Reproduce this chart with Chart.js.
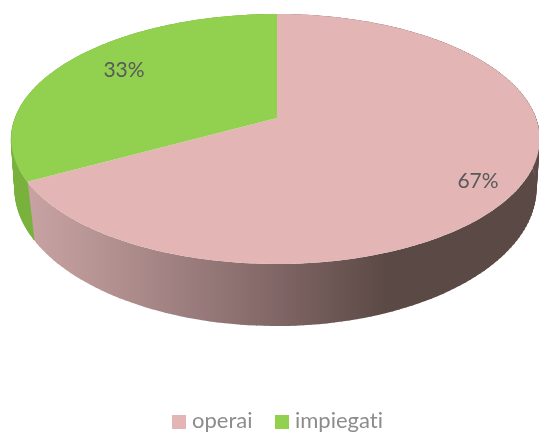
<!DOCTYPE html>
<html>
<head>
    <title>Operai e impiegati</title>
    <script src="https://cdn.jsdelivr.net/npm/chart.js"></script>
    <style>
        html, body { margin: 0; padding: 0; background: #fff; overflow: hidden; }
    </style>
</head>
<body>
    <canvas id="pieChart" width="539" height="432"></canvas>

    <script>
        const categories = ['operai', 'impiegati'];
        const values = [67, 33];
        const sliceColors = ['#e3b5b5', '#92d050'];
        const textFont = 'Lato, sans-serif';

        // Perspective of the disc: maps the unit circle to the tilted pie top
        const view = { cx: 277, radiusLeft: 262, radiusRight: 259, k: -0.168, a: 101.65, b: 118 };

        function project(u, v) {
            const w = 1 + view.k * v;
            const radius = u < 0 ? view.radiusLeft : view.radiusRight;
            return { x: view.cx + radius * u / w, y: (view.a * v + view.b) / w };
        }

        // theta is the Chart.js arc angle, f the fraction of the radius
        function diskPoint(theta, f) {
            return project(f * Math.cos(theta), f * Math.sin(theta));
        }

        function rimBottom(theta) {
            const p = diskPoint(theta, 1);
            const depth = 55 + 7 * Math.sin(theta);
            const shrink = 0.992 - 0.04 * Math.max(0, Math.sin(theta));
            return { x: view.cx + (p.x - view.cx) * shrink, y: p.y + depth };
        }

        function anglesBetween(start, end) {
            const list = [];
            const steps = 160;
            for (let i = 0; i <= steps; i++) {
                list.push(start + (end - start) * i / steps);
            }
            return list;
        }

        function wallFill(ctx, index) {
            if (index === 1) return '#78b13c';
            const g = ctx.createLinearGradient(30, 0, 539, 0);
            g.addColorStop(0, '#c8a2a2');
            g.addColorStop(0.14, '#b69393');
            g.addColorStop(0.47, '#836868');
            g.addColorStop(0.7, '#5b4945');
            g.addColorStop(1, '#5b4945');
            return g;
        }

        const pie3d = {
            id: 'pie3d',
            beforeDatasetsDraw(chart) {
                const ctx = chart.ctx;
                const arcs = chart.getDatasetMeta(0).data;

                // side walls first, the top surface covers what is behind it
                arcs.forEach((arc, i) => {
                    const angles = anglesBetween(arc.startAngle, arc.endAngle);
                    const fill = wallFill(ctx, i);
                    ctx.beginPath();
                    angles.forEach((t, n) => {
                        const p = diskPoint(t, 1);
                        if (n === 0) ctx.moveTo(p.x, p.y); else ctx.lineTo(p.x, p.y);
                    });
                    angles.slice().reverse().forEach(t => {
                        const p = rimBottom(t);
                        ctx.lineTo(p.x, p.y);
                    });
                    ctx.closePath();
                    ctx.fillStyle = fill;
                    ctx.fill();

                    // sweep the rim down so the silhouette stays closed at the sides
                    ctx.strokeStyle = fill;
                    ctx.lineWidth = 1;
                    angles.forEach(t => {
                        const p = diskPoint(t, 1);
                        const q = rimBottom(t);
                        ctx.beginPath();
                        ctx.moveTo(p.x, p.y);
                        ctx.lineTo(q.x, q.y);
                        ctx.stroke();
                    });
                });

                arcs.forEach((arc, i) => {
                    const centre = project(0, 0);
                    ctx.beginPath();
                    ctx.moveTo(centre.x, centre.y);
                    anglesBetween(arc.startAngle, arc.endAngle).forEach(t => {
                        const p = diskPoint(t, 1);
                        ctx.lineTo(p.x, p.y);
                    });
                    ctx.closePath();
                    ctx.fillStyle = sliceColors[i];
                    ctx.fill();
                });

                ctx.textRendering = 'optimizeSpeed';

                // data labels
                ctx.font = '21px ' + textFont;
                ctx.fillStyle = '#595959';
                ctx.textAlign = 'center';
                ctx.textBaseline = 'middle';
                const labelSpots = [{ x: 478, y: 181 }, { x: 124, y: 70 }];
                arcs.forEach((arc, i) => {
                    ctx.fillText(values[i] + '%', labelSpots[i].x, labelSpots[i].y);
                });

                // legend
                const legendSpots = [{ box: 172, text: 192 }, { box: 275, text: 295 }];
                ctx.font = '22px ' + textFont;
                ctx.textAlign = 'left';
                ctx.textBaseline = 'alphabetic';
                categories.forEach((name, i) => {
                    ctx.fillStyle = sliceColors[i];
                    ctx.fillRect(legendSpots[i].box, 415, 14, 14);
                    ctx.fillStyle = '#8c8c8c';
                    ctx.fillText(name, legendSpots[i].text, 428);
                });
                return false;
            }
        };

        new Chart(document.getElementById('pieChart'), {
            type: 'pie',
            data: {
                labels: categories,
                datasets: [{
                    data: values,
                    backgroundColor: sliceColors,
                    borderWidth: 0
                }]
            },
            plugins: [pie3d],
            options: {
                responsive: false,
                animation: false,
                plugins: {
                    tooltip: { enabled: false },
                    legend: { display: false }
                }
            }
        });
    </script>
</body>
</html>
